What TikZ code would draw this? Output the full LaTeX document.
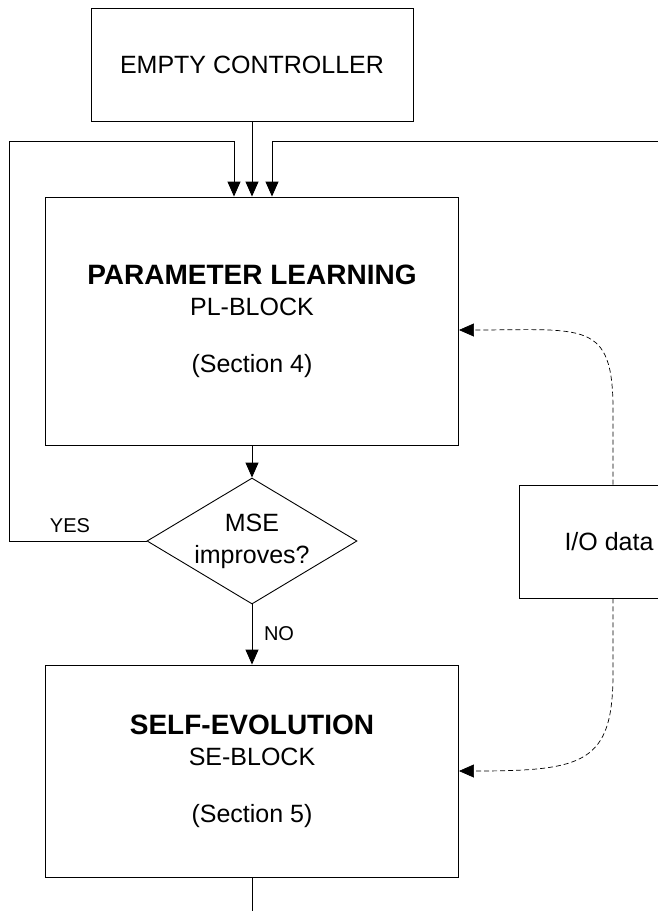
\documentclass[tikz,border=0pt]{standalone}
\usepackage{fontspec}
\setmainfont{Liberation Sans}
\usetikzlibrary{arrows.meta,
	shapes.geometric}

\begin{document}
\begin{tikzpicture}[x=1pt,y=-1pt,line width=0.9pt,>={Triangle[length=15pt,width=13pt]}]
      \tikzstyle{block}=[draw,rectangle,align=center,inner sep=0pt,font=\fontsize{25}{31}\selectfont]
      \tikzstyle{decision}=[draw,diamond,aspect=1.667,inner sep=0pt,align=center,minimum width=210pt,minimum height=126pt,font=\fontsize{25}{32}\selectfont]
      \tikzstyle{branch}=[inner sep=0pt,font=\fontsize{20}{24}\selectfont]
      \tikzstyle{dataflow}=[dashed,dash pattern=on 5pt off 3pt,line width=0.7pt]
      \useasboundingbox (0,0) rectangle (658,911);
      \node[block,minimum width=322pt,minimum height=113pt] (ctrl) at (252,64.5) {EMPTY CONTROLLER};
      \node[block,minimum width=413pt,minimum height=248pt] (pl) at (252,321)
        {{\fontsize{28}{32}\selectfont\bfseries PARAMETER LEARNING}\\PL-BLOCK\\[26pt](Section 4)};
      \node[decision] (mse) at (252,541) {MSE\\improves?};
      \node[block,minimum width=413pt,minimum height=212pt] (se) at (252,771)
        {{\fontsize{28}{32}\selectfont\bfseries SELF-EVOLUTION}\\SE-BLOCK\\[26pt](Section 5)};
      \node[block,minimum width=180pt,minimum height=113pt] (io) at (609,541.5) {I/O data};
      \node[branch] (yes) at (70,526) {YES};
      \node[branch] (no) at (279,634) {NO};
      \coordinate (yes corner) at (9,141);
      \coordinate (loop right) at (658,141);
      \coordinate (out) at (252,911);
      % main flow
      \draw[->] (ctrl.south) -- (pl.north);
      \draw[->] (pl.south) -- (mse.north);
      \draw[->] (mse.south) -- (se.north);
      \draw (se.south) -- (out);
      % loops back into the learning block
      \draw[->] (mse.west) -| (yes corner) -| ([xshift=-18pt]pl.north);
      \draw[->] (loop right) -| ([xshift=20pt]pl.north);
      % data
      \draw[dataflow,->] ([xshift=4pt]io.north) -- ++(0,-75) .. controls +(0,-90) and +(125,0) .. ([yshift=-9pt]pl.east);
      \draw[dataflow,->] ([xshift=4pt]io.south) -- ++(0,75) .. controls +(0,90) and +(125,0) .. (se.east);
\end{tikzpicture}
\end{document}
